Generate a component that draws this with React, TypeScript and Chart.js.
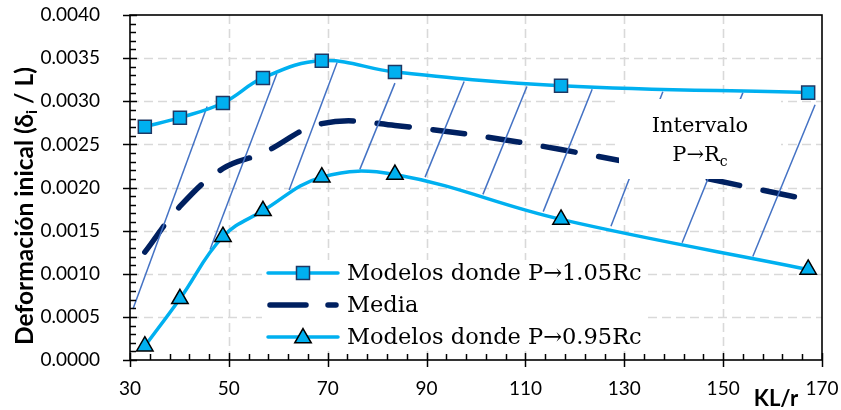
import { useEffect, useRef } from 'react';
import { Chart, registerables } from 'chart.js';

Chart.register(...registerables);

// ---- data ----
const klValues = [33, 40.1, 48.8, 56.9, 68.8, 83.6, 117.2, 167.2];
const upperSeries = [0.002705, 0.00281, 0.00298, 0.00327, 0.00347, 0.00334, 0.00318, 0.0031];
const mediaSeries = [0.00125, 0.00178, 0.00222, 0.0024, 0.00274, 0.00272, 0.00244, 0.00186];
const lowerSeries = [0.00016, 0.00071, 0.00143, 0.00173, 0.00212, 0.00215, 0.00163, 0.00105];
// hatch segments: [x1, y1, x2, y2]
const hatchSegments = [
  [30.6, 0.00059, 45.6, 0.00294],
  [46.2, 0.00128, 59.7, 0.00332],
  [62.2, 0.00197, 71.9, 0.00345],
  [76.5, 0.00221, 83.6, 0.00321],
  [89.7, 0.00212, 97.6, 0.00323],
  [101.4, 0.00192, 110.3, 0.00317],
  [113.6, 0.00172, 123.5, 0.00314],
  [127.3, 0.00155, 137.8, 0.00311],
  [141.7, 0.00136, 154.0, 0.0031],
  [156.0, 0.0012, 168.6, 0.00296],
];
const xTicks = [30, 50, 70, 90, 110, 130, 150, 170];
const yTicks = [0, 0.0005, 0.001, 0.0015, 0.002, 0.0025, 0.003, 0.0035, 0.004];
const legendLabels = ['Modelos donde P\u21921.05Rc', 'Media', 'Modelos donde P\u21920.95Rc'];
const yTitleMain = 'Deformaci\u00f3n inical (\u03b4';
const yTitleSub = 'i';
const yTitleEnd = ' / L)';
const xTitle = 'KL/r';
const noteLine1 = 'Intervalo';
const noteLine2 = 'P\u2192R';
const noteSub = 'c';

const LIGHT = '#00B0F0';
const NAVY = '#002060';
const HATCH = '#4472C4';
const SQ_BORDER = '#1F3864';

function drawSquare(ctx: CanvasRenderingContext2D, x: number, y: number) {
  const s = 6.5;
  ctx.fillStyle = LIGHT;
  ctx.strokeStyle = SQ_BORDER;
  ctx.lineWidth = 1.5;
  ctx.beginPath();
  ctx.rect(x - s, y - s, 2 * s, 2 * s);
  ctx.fill();
  ctx.stroke();
}
function drawTriangle(ctx: CanvasRenderingContext2D, x: number, y: number) {
  const r = 9.5;
  ctx.fillStyle = LIGHT;
  ctx.strokeStyle = '#000';
  ctx.lineWidth = 1.5;
  ctx.beginPath();
  ctx.moveTo(x, y - r);
  ctx.lineTo(x + 0.866 * r, y + 0.5 * r);
  ctx.lineTo(x - 0.866 * r, y + 0.5 * r);
  ctx.closePath();
  ctx.fill();
  ctx.stroke();
}

const decor = {
  id: 'decor',
  beforeDatasetsDraw(chart: any) {
    const ctx = chart.ctx as CanvasRenderingContext2D;
    const { left, right, top, bottom } = chart.chartArea;
    const xs = chart.scales.x;
    const ys = chart.scales.y;
    ctx.save();
    ctx.strokeStyle = '#D9D9D9';
    ctx.lineWidth = 1.6;
    ctx.setLineDash([9, 5]);
    xTicks.slice(1, -1).forEach((v) => {
      const px = Math.round(xs.getPixelForValue(v)) + 0.5;
      ctx.beginPath();
      ctx.moveTo(px, top);
      ctx.lineTo(px, bottom);
      ctx.stroke();
    });
    yTicks.slice(1, -1).forEach((v) => {
      const py = Math.round(ys.getPixelForValue(v)) + 0.5;
      ctx.beginPath();
      ctx.moveTo(left, py);
      ctx.lineTo(right, py);
      ctx.stroke();
    });
    ctx.restore();
  },
  afterDatasetsDraw(chart: any) {
    const ctx = chart.ctx as CanvasRenderingContext2D;
    const { left, right, top, bottom } = chart.chartArea;
    const xs = chart.scales.x;
    const ys = chart.scales.y;
    ctx.save();

    // note box
    ctx.fillStyle = '#fff';
    ctx.fillRect(619, 99, 162, 80);
    ctx.fillStyle = '#000';
    ctx.font = '21px "DejaVu Serif"';
    ctx.textAlign = 'center';
    ctx.textBaseline = 'alphabetic';
    ctx.fillText(noteLine1, 700, 132);
    const w2 = ctx.measureText(noteLine2).width;
    ctx.font = '14px "DejaVu Serif"';
    const ws = ctx.measureText(noteSub).width;
    const startX = 700 - (w2 + ws) / 2;
    ctx.textAlign = 'left';
    ctx.font = '21px "DejaVu Serif"';
    ctx.fillText(noteLine2, startX, 161);
    ctx.font = '14px "DejaVu Serif"';
    ctx.fillText(noteSub, startX + w2, 166);

    // legend box
    ctx.fillStyle = '#fff';
    ctx.fillRect(262, 260, 381, 87);
    const rows = [273, 305, 337];
    ctx.lineCap = 'round';
    ctx.strokeStyle = LIGHT;
    ctx.lineWidth = 3.5;
    ctx.setLineDash([]);
    ctx.beginPath();
    ctx.moveTo(268, rows[0]);
    ctx.lineTo(338, rows[0]);
    ctx.stroke();
    drawSquare(ctx, 303, rows[0]);
    ctx.strokeStyle = NAVY;
    ctx.lineWidth = 5.5;
    ctx.setLineDash([36, 22]);
    ctx.beginPath();
    ctx.moveTo(270, rows[1]);
    ctx.lineTo(336, rows[1]);
    ctx.stroke();
    ctx.setLineDash([]);
    ctx.strokeStyle = LIGHT;
    ctx.lineWidth = 3.5;
    ctx.beginPath();
    ctx.moveTo(268, rows[2]);
    ctx.lineTo(338, rows[2]);
    ctx.stroke();
    drawTriangle(ctx, 303, rows[2] + 1);
    ctx.fillStyle = '#000';
    ctx.font = '22.5px "DejaVu Serif"';
    ctx.textAlign = 'left';
    ctx.textBaseline = 'middle';
    legendLabels.forEach((t, i) => ctx.fillText(t, 347, rows[i] + 1));

    // frame
    ctx.lineCap = 'butt';
    ctx.strokeStyle = '#000';
    ctx.lineWidth = 1.6;
    ctx.strokeRect(left, top, right - left, bottom - top);
    ctx.lineWidth = 1.5;
    for (let k = 0; k <= 40; k++) {
      const v = k * 0.0001;
      const py = Math.round(ys.getPixelForValue(v)) + 0.5;
      ctx.beginPath();
      if (k % 5 === 0) {
        ctx.moveTo(left - 7, py);
        ctx.lineTo(left + 7, py);
      } else {
        ctx.moveTo(left, py);
        ctx.lineTo(left + 6, py);
      }
      ctx.stroke();
    }
    for (let v = 30; v <= 170; v += 4) {
      const px = Math.round(xs.getPixelForValue(v)) + 0.5;
      ctx.beginPath();
      if ((v - 30) % 20 === 0) {
        ctx.moveTo(px, bottom - 7);
        ctx.lineTo(px, bottom + 7);
      } else {
        ctx.moveTo(px, bottom);
        ctx.lineTo(px, bottom - 6);
      }
      ctx.stroke();
    }
    ctx.restore();
  },
  afterDraw(chart: any) {
    const ctx = chart.ctx as CanvasRenderingContext2D;
    ctx.save();
    ctx.fillStyle = '#000';
    // y title, sized to span ~278px
    const base = 20;
    ctx.font = `bold ${base}px Lato`;
    const a0 = ctx.measureText(yTitleMain).width + ctx.measureText(yTitleEnd).width;
    ctx.font = `bold ${base * 0.65}px Lato`;
    const b0 = ctx.measureText(yTitleSub).width;
    const fs = (base * 278) / (a0 + b0);
    const sub = fs * 0.65;
    ctx.font = `bold ${fs}px Lato`;
    const a = ctx.measureText(yTitleMain).width;
    const c = ctx.measureText(yTitleEnd).width;
    ctx.font = `bold ${sub}px Lato`;
    const b = ctx.measureText(yTitleSub).width;
    const total = a + b + c;
    ctx.translate(33, 206);
    ctx.rotate(-Math.PI / 2);
    ctx.textBaseline = 'alphabetic';
    ctx.textAlign = 'left';
    const x0 = -total / 2;
    ctx.font = `bold ${fs}px Lato`;
    ctx.fillText(yTitleMain, x0, 0);
    ctx.font = `bold ${sub}px Lato`;
    ctx.fillText(yTitleSub, x0 + a, 4);
    ctx.font = `bold ${fs}px Lato`;
    ctx.fillText(yTitleEnd, x0 + a + b, 0);
    ctx.restore();
    ctx.save();
    ctx.fillStyle = '#000';
    ctx.font = 'bold 22px Lato';
    ctx.textAlign = 'center';
    ctx.textBaseline = 'middle';
    ctx.fillText(xTitle, 776, 399);
    ctx.restore();
  },
};

export default function App() {
  const ref = useRef<HTMLCanvasElement>(null);
  useEffect(() => {
    const pts = (ys: number[]) => klValues.map((x, i) => ({ x, y: ys[i] }));
    const hatchSets = hatchSegments.map((s) => ({
      data: [
        { x: s[0], y: s[1] },
        { x: s[2], y: s[3] },
      ],
      borderColor: HATCH,
      borderWidth: 1.5,
      pointRadius: 0,
      tension: 0,
      fill: false,
    }));
    const chart = new Chart(ref.current as HTMLCanvasElement, {
      type: 'line',
      data: {
        datasets: [
          {
            label: legendLabels[0],
            data: pts(upperSeries),
            borderColor: LIGHT,
            borderWidth: 3.5,
            backgroundColor: LIGHT,
            pointStyle: 'rect',
            pointRadius: 9.2,
            pointBorderColor: SQ_BORDER,
            pointBorderWidth: 1.5,
            pointBackgroundColor: LIGHT,
            tension: 0.4,
          },
          {
            label: legendLabels[2],
            data: pts(lowerSeries),
            borderColor: LIGHT,
            borderWidth: 3.5,
            backgroundColor: LIGHT,
            pointStyle: 'triangle',
            pointRadius: 9.5,
            pointBorderColor: '#000',
            pointBorderWidth: 1.5,
            pointBackgroundColor: LIGHT,
            tension: 0.4,
          },
          ...hatchSets,
          {
            label: legendLabels[1],
            data: pts(mediaSeries),
            borderColor: NAVY,
            borderWidth: 5.5,
            borderDash: [32, 24],
            borderCapStyle: 'round',
            pointRadius: 0,
            tension: 0.4,
          },
        ] as any,
      },
      options: {
        animation: false,
        responsive: true,
        maintainAspectRatio: false,
        layout: { padding: { left: 0, top: 15, right: 19, bottom: 0 } },
        plugins: { legend: { display: false }, tooltip: { enabled: false }, title: { display: false } },
        scales: {
          x: {
            type: 'linear',
            min: 30,
            max: 170,
            afterFit: (s: any) => {
              s.height = 50;
              s.paddingLeft = 0;
              s.paddingRight = 0;
              s.paddingTop = 0;
              s.paddingBottom = 0;
            },
            afterBuildTicks: (s: any) => {
              s.ticks = xTicks.map((v) => ({ value: v }));
            },
            ticks: {
              color: '#000',
              font: { family: 'Lato', size: 19 },
              padding: 17,
              maxRotation: 0,
              autoSkip: false,
            },
            grid: { display: false, drawTicks: false },
            border: { display: false },
          },
          y: {
            type: 'linear',
            min: 0,
            max: 0.004,
            afterFit: (s: any) => {
              s.width = 130;
              s.paddingLeft = 0;
              s.paddingRight = 0;
              s.paddingTop = 0;
              s.paddingBottom = 0;
            },
            afterBuildTicks: (s: any) => {
              s.ticks = yTicks.map((v) => ({ value: v }));
            },
            ticks: {
              color: '#000',
              font: { family: 'Lato', size: 19 },
              padding: 30,
              autoSkip: false,
              callback: (v: any) => Number(v).toFixed(4),
            },
            grid: { display: false, drawTicks: false },
            border: { display: false },
          },
        },
      } as any,
      plugins: [decor],
    });
    return () => chart.destroy();
  }, []);
  return (
    <div style={{ position: 'absolute', left: 0, top: 0, width: 841, height: 410, background: '#fff' }}>
      <canvas ref={ref} />
    </div>
  );
}
